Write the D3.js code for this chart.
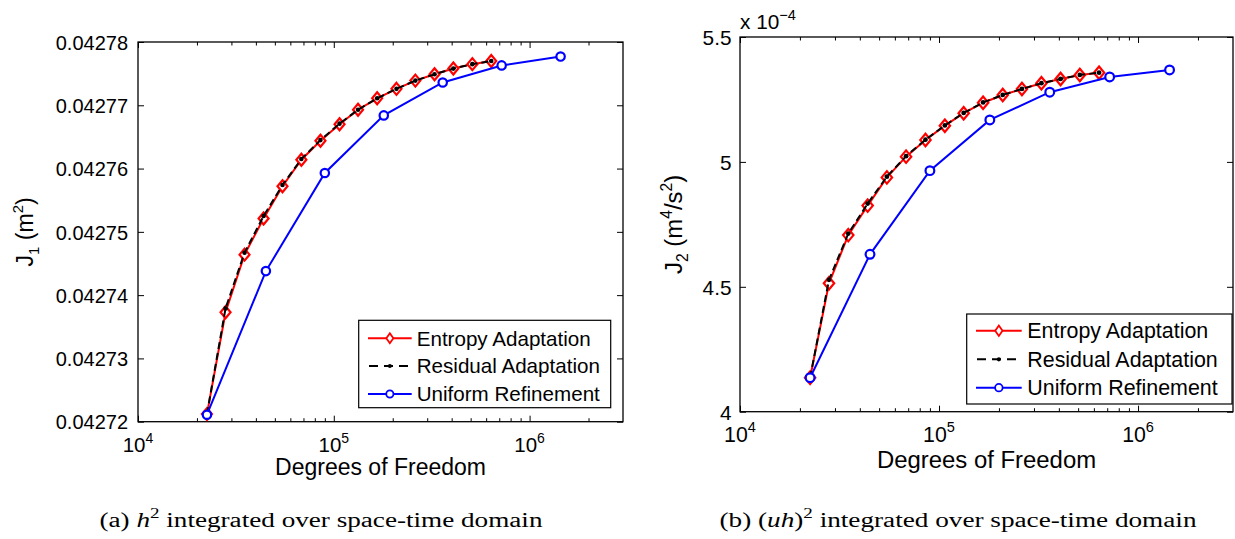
<!DOCTYPE html>
<html>
<head>
<meta charset="utf-8">
<script src="https://cdn.jsdelivr.net/npm/d3@7"></script>
<style>
  body { margin: 0; background: #fff; }
  svg { display: block; font-family: "Liberation Sans", Arial, sans-serif; }
</style>
</head>
<body>
<svg id="fig" width="1235" height="539"></svg>
<script>
// degrees of freedom
const dofAdapt = [22500, 28000, 35000, 43800, 54700, 68300, 85500, 107000, 133000,
  166500, 209000, 261000, 327000, 408000, 510000, 637000];
const dofUniform = [22500, 45000, 90000, 180000, 360000, 720000, 1440000];

// J1 (m^2)
const j1Entropy = [0.0427212, 0.0427373, 0.0427464, 0.0427521, 0.0427572, 0.0427614,
  0.0427644, 0.0427670, 0.0427693, 0.0427711, 0.0427726, 0.0427739, 0.0427749,
  0.0427758, 0.0427765, 0.0427770];
const j1Residual = [0.0427212, 0.0427379, 0.0427467, 0.0427525, 0.0427574, 0.0427615,
  0.0427645, 0.0427671, 0.0427693, 0.0427711, 0.0427726, 0.0427739, 0.0427749,
  0.0427758, 0.0427765, 0.0427770];
const j1Uniform = [0.0427211, 0.0427438, 0.0427593, 0.0427684, 0.0427736, 0.0427763, 0.0427777];

// J2 (m^4/s^2), in units of 1e-4
const j2Entropy = [4.136, 4.514, 4.707, 4.825, 4.938, 5.021, 5.088, 5.145, 5.195,
  5.237, 5.268, 5.292, 5.315, 5.332, 5.348, 5.357];
const j2Residual = [4.136, 4.528, 4.713, 4.833, 4.941, 5.023, 5.089, 5.146, 5.196,
  5.238, 5.268, 5.292, 5.315, 5.332, 5.348, 5.357];
const j2Uniform = [4.136, 4.630, 4.965, 5.168, 5.279, 5.340, 5.368];

const xMajor = [1e4, 1e5, 1e6];
const xMinor = [2e4, 3e4, 4e4, 5e4, 6e4, 7e4, 8e4, 9e4, 2e5, 3e5, 4e5, 5e5, 6e5, 7e5, 8e5, 9e5, 2e6];
const j1Ticks = [0.04272, 0.04273, 0.04274, 0.04275, 0.04276, 0.04277, 0.04278];
const j2Ticks = [4, 4.5, 5, 5.5];
const seriesNames = ["Entropy Adaptation", "Residual Adaptation", "Uniform Refinement"];

const svg = d3.select("#fig");

const diamond = (w, h) => `M0,${-h}L${w},0L0,${h}L${-w},0Z`;

function panel(o) {
  const g = svg.append("g");
  const x = d3.scaleLog().domain([1e4, 3e6]).range([o.left, o.right]);
  const y = d3.scaleLinear().domain(o.yDomain).range([o.bottom, o.top]);
  const k = o.k;

  const clean = (a) => {
    a.select(".domain").remove();
    a.selectAll("line").attr("stroke", "#000").attr("stroke-width", 1);
  };

  // ticks, all pointing inward
  g.append("g").attr("transform", `translate(0,${o.bottom})`)
    .call(d3.axisBottom(x).tickValues(xMajor).tickSize(-6).tickFormat("")).call(clean);
  g.append("g").attr("transform", `translate(0,${o.bottom})`)
    .call(d3.axisBottom(x).tickValues(xMinor).tickSize(-3.5).tickFormat("")).call(clean);
  g.append("g").attr("transform", `translate(0,${o.top})`)
    .call(d3.axisTop(x).tickValues(xMajor).tickSize(-6).tickFormat("")).call(clean);
  g.append("g").attr("transform", `translate(0,${o.top})`)
    .call(d3.axisTop(x).tickValues(xMinor).tickSize(-3.5).tickFormat("")).call(clean);
  g.append("g").attr("transform", `translate(${o.right},0)`)
    .call(d3.axisRight(y).tickValues(o.yTicks).tickSize(-6).tickFormat("")).call(clean);
  const ya = g.append("g").attr("transform", `translate(${o.left},0)`)
    .call(d3.axisLeft(y).tickValues(o.yTicks).tickSize(-6).tickPadding(o.yPad).tickFormat(o.yFmt));
  ya.call(clean);
  ya.attr("font-family", null).attr("font-size", 20 * k);
  ya.selectAll("text").attr("fill", "#000").attr("dy", "0.36em");

  // frame
  g.append("rect")
    .attr("x", o.left).attr("y", o.top)
    .attr("width", o.right - o.left).attr("height", o.bottom - o.top)
    .attr("fill", "none").attr("stroke", "#000").attr("stroke-width", 1.3);

  // x tick labels 10^n
  xMajor.forEach((v) => {
    const t = g.append("text")
      .attr("x", x(v)).attr("y", o.bottom + 30)
      .attr("text-anchor", "middle").attr("font-size", 20.5 * k);
    t.append("tspan").text("10");
    t.append("tspan").attr("dy", -9 * k).attr("font-size", 14 * k).text(Math.round(Math.log10(v)));
  });

  // axis titles
  g.append("text")
    .attr("x", (o.left + o.right) / 2).attr("y", o.titleY)
    .attr("text-anchor", "middle").attr("font-size", 23 * k)
    .text("Degrees of Freedom");

  const yl = g.append("text")
    .attr("transform", `translate(${o.yLabelX},${(o.top + o.bottom) / 2}) rotate(-90)`)
    .attr("text-anchor", "middle").attr("font-size", 23 * k);
  o.yLabel.forEach((p) => {
    const s = yl.append("tspan").text(p.t);
    if (p.sub) s.attr("font-size", 15 * k).attr("dy", 6 * k);
    if (p.sup) s.attr("font-size", 15 * k).attr("dy", -10 * k);
    if (p.back) s.attr("dy", p.back * k);
  });

  if (o.mult) {
    const m = g.append("text").attr("x", o.left).attr("y", o.top - 8).attr("font-size", 20 * k);
    m.append("tspan").text("x 10");
    m.append("tspan").attr("dy", -9).attr("font-size", 14 * k).text("\u22124");
  }

  const line = d3.line().x((d) => x(d[0])).y((d) => y(d[1]));
  const ent = d3.zip(dofAdapt, o.entropy);
  const res = d3.zip(dofAdapt, o.residual);
  const uni = d3.zip(dofUniform, o.uniform);

  // entropy: red solid with diamonds
  g.append("path").datum(ent).attr("d", line)
    .attr("fill", "none").attr("stroke", "#ff0000").attr("stroke-width", 2);
  g.selectAll(".dia").data(ent).join("path").attr("class", "dia")
    .attr("transform", (d) => `translate(${x(d[0])},${y(d[1])})`)
    .attr("d", diamond(5 * k, 6 * k))
    .attr("fill", "#fff").attr("stroke", "#ff0000").attr("stroke-width", 2.2);

  // residual: black dashed with dots
  g.append("path").datum(res).attr("d", line)
    .attr("fill", "none").attr("stroke", "#000").attr("stroke-width", 2)
    .attr("stroke-dasharray", "7,4");
  g.selectAll(".dot").data(res).join("circle").attr("class", "dot")
    .attr("cx", (d) => x(d[0])).attr("cy", (d) => y(d[1])).attr("r", 2.3 * k)
    .attr("fill", "#000");

  // uniform: blue solid with circles
  g.append("path").datum(uni).attr("d", line)
    .attr("fill", "none").attr("stroke", "#0000ff").attr("stroke-width", 2);
  g.selectAll(".circ").data(uni).join("circle").attr("class", "circ")
    .attr("cx", (d) => x(d[0])).attr("cy", (d) => y(d[1])).attr("r", 4.2 * k)
    .attr("fill", "#fff").attr("stroke", "#0000ff").attr("stroke-width", 2.2);

  // legend
  const L = o.legend;
  g.append("rect").attr("x", L.x0).attr("y", L.y0)
    .attr("width", L.x1 - L.x0).attr("height", L.y1 - L.y0)
    .attr("fill", "#fff").attr("stroke", "#000").attr("stroke-width", 1.2);
  const colors = ["#ff0000", "#000", "#0000ff"];
  seriesNames.forEach((name, i) => {
    const cy = L.rows[i];
    const ln = g.append("line").attr("x1", L.l0).attr("x2", L.l1).attr("y1", cy).attr("y2", cy)
      .attr("stroke", colors[i]).attr("stroke-width", 2);
    const mx = (L.l0 + L.l1) / 2;
    if (i === 0) {
      g.append("path").attr("transform", `translate(${mx},${cy})`).attr("d", diamond(3.5 * k, 5 * k))
        .attr("fill", "#fff").attr("stroke", colors[i]).attr("stroke-width", 1.8);
    } else if (i === 1) {
      ln.attr("stroke-dasharray", "9,6").attr("stroke-dashoffset", -1);
      g.append("circle").attr("cx", mx).attr("cy", cy).attr("r", 2 * k).attr("fill", "#000");
    } else {
      g.append("circle").attr("cx", mx).attr("cy", cy).attr("r", 3.6 * k)
        .attr("fill", "#fff").attr("stroke", colors[i]).attr("stroke-width", 1.8);
    }
    g.append("text").attr("x", L.tx).attr("y", cy).attr("dy", "0.36em")
      .attr("font-size", 20.6 * k).text(name);
  });
}

panel({
  left: 138, right: 623, top: 42, bottom: 421.7, k: 1,
  yDomain: [0.04272, 0.04278], yTicks: j1Ticks, yPad: 10, yFmt: d3.format(".5f"),
  entropy: j1Entropy, residual: j1Residual, uniform: j1Uniform,
  titleY: 475, yLabelX: 33,
  yLabel: [{ t: "J" }, { t: "1", sub: true }, { t: " (m", back: -6 }, { t: "2", sup: true }, { t: ")", back: 10 }],
  legend: { x0: 358.7, x1: 610.7, y0: 320.3, y1: 407.7, rows: [338.3, 366, 394], l0: 368, l1: 411.7, tx: 416.7 }
});

panel({
  left: 740, right: 1233, top: 37, bottom: 411.7, k: 1.04,
  yDomain: [4, 5.5], yTicks: j2Ticks, yPad: 8.5, yFmt: (d) => String(d),
  entropy: j2Entropy, residual: j2Residual, uniform: j2Uniform,
  titleY: 468, yLabelX: 682, mult: true,
  yLabel: [{ t: "J" }, { t: "2", sub: true }, { t: " (m", back: -6 }, { t: "4", sup: true },
    { t: "/s", back: 10 }, { t: "2", sup: true }, { t: ")", back: 10 }],
  legend: { x0: 966.7, x1: 1232, y0: 314, y1: 404, rows: [330.7, 359.3, 387.7], l0: 976, l1: 1021.7, tx: 1027.3 }
});

// captions (LaTeX style)
const capFont = '"Liberation Serif", "Times New Roman", serif';
function caption(cx, width, parts) {
  const t = svg.append("text").attr("x", cx).attr("y", 527)
    .attr("text-anchor", "middle").attr("font-family", capFont).attr("font-size", 20)
    .attr("textLength", width).attr("lengthAdjust", "spacingAndGlyphs");
  parts.forEach((p) => {
    const s = t.append("tspan").text(p.t);
    if (p.it) s.attr("font-style", "italic");
    if (p.sup) s.attr("font-size", 14).attr("dy", -9);
    if (p.back) s.attr("dy", p.back);
  });
}
caption(321, 443, [{ t: "(a) " }, { t: "h", it: true }, { t: "2", sup: true },
  { t: " integrated over space-time domain", back: 9 }]);
caption(958, 477, [{ t: "(b) (" }, { t: "uh", it: true }, { t: ")" }, { t: "2", sup: true },
  { t: " integrated over space-time domain", back: 9 }]);
</script>
</body>
</html>
